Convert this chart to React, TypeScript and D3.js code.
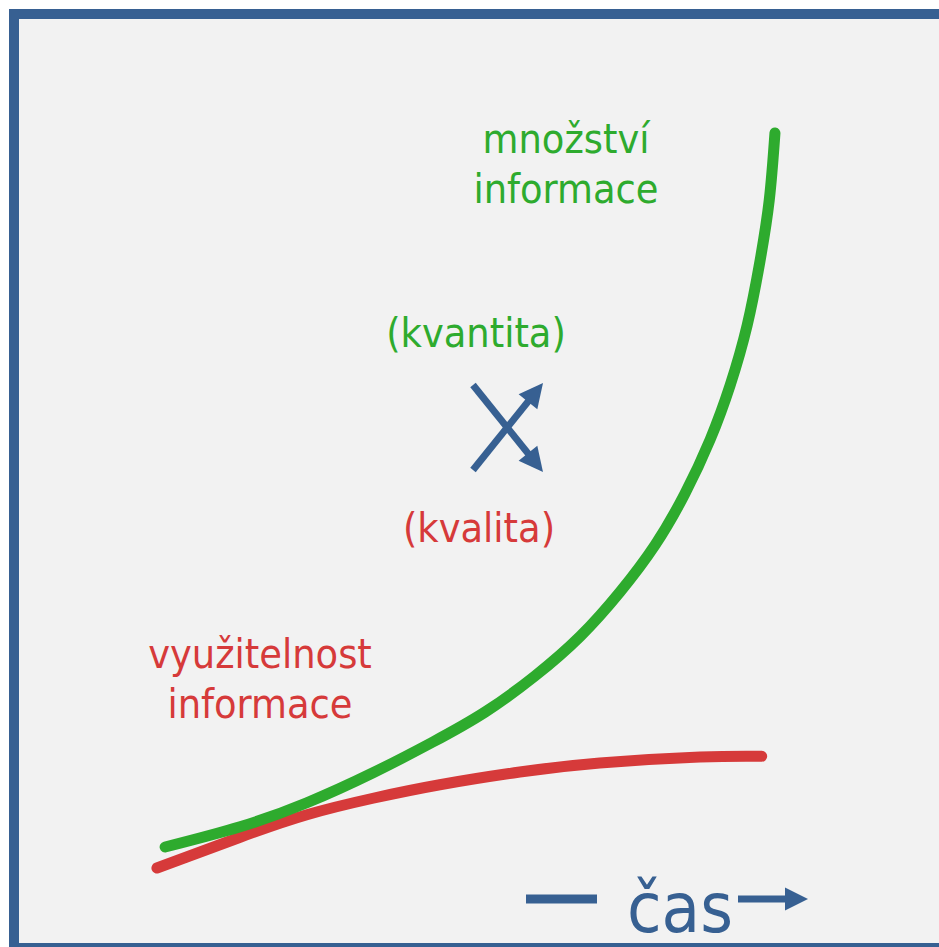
import React, { useEffect } from "react";
import * as d3 from "d3";

// time runs 0..100, value 0..100 (arbitrary units)
const amountTime = [2.4, 14.3, 24.9, 35.4, 44.9, 53.2, 61.1, 68.3, 74.6, 80.2, 84.9, 88.9, 92.1, 94.8, 96.8, 98.3, 99.2];
const amountValue = [4.4, 7.1, 10.3, 14.3, 18.4, 22.4, 27.2, 32.5, 38.4, 44.7, 51.5, 58.7, 66.0, 74.0, 82.4, 90.7, 99.6];

const usefulTime = [1.1, 14.3, 24.9, 35.4, 46.0, 58.7, 71.4, 87.3, 97.1];
const usefulValue = [1.6, 5.7, 8.7, 10.9, 12.7, 14.4, 15.6, 16.4, 16.5];

const amountLabel = ["množství", "informace"];
const quantityLabel = "(kvantita)";
const qualityLabel = "(kvalita)";
const usefulLabel = ["využitelnost", "informace"];
const timeLabel = "čas";

const W = 939;
const H = 947;
const GREEN = "#2eab2e";
const RED = "#d63a3a";
const BLUE = "#376092";
const FONT = "'DejaVu Sans Condensed', 'DejaVu Sans', sans-serif";

function Arrow({ x1, y1, x2, y2, width, head, headW }) {
  const dx = x2 - x1;
  const dy = y2 - y1;
  const len = Math.sqrt(dx * dx + dy * dy);
  const ux = dx / len;
  const uy = dy / len;
  const bx = x2 - ux * head;
  const by = y2 - uy * head;
  const px = -uy * headW / 2;
  const py = ux * headW / 2;
  return (
    <g>
      <line x1={x1} y1={y1} x2={bx + ux * 2} y2={by + uy * 2} stroke={BLUE} strokeWidth={width} />
      <polygon points={`${x2},${y2} ${bx + px},${by + py} ${bx - px},${by - py}`} fill={BLUE} />
    </g>
  );
}

export default function App() {
  useEffect(() => {
    document.body.style.margin = "0";
  }, []);

  const x = d3.scaleLinear().domain([0, 100]).range([150, 780]);
  const y = d3.scaleLinear().domain([0, 100]).range([880, 130]);

  const line = d3
    .line()
    .x((d) => x(d[0]))
    .y((d) => y(d[1]))
    .curve(d3.curveNatural);

  const amount = amountTime.map((t, i) => [t, amountValue[i]]);
  const useful = usefulTime.map((t, i) => [t, usefulValue[i]]);

  return (
    <svg width={W} height={H} style={{ display: "block" }}>
      <rect x={14} y={14} width={950} height={934} fill="#f2f2f2" stroke={BLUE} strokeWidth={10} />

      <path d={line(useful)} fill="none" stroke={RED} strokeWidth={11} strokeLinecap="round" />
      <path d={line(amount)} fill="none" stroke={GREEN} strokeWidth={11} strokeLinecap="round" />

      <g fontFamily={FONT} fontSize={41} textAnchor="middle">
        <text x={566} y={153} fill={GREEN}>{amountLabel[0]}</text>
        <text x={566} y={203} fill={GREEN}>{amountLabel[1]}</text>
        <text x={476} y={347} fill={GREEN}>{quantityLabel}</text>
        <text x={479} y={542} fill={RED}>{qualityLabel}</text>
        <text x={260} y={668} fill={RED}>{usefulLabel[0]}</text>
        <text x={260} y={718} fill={RED}>{usefulLabel[1]}</text>
      </g>

      {/* crossing arrows */}
      <Arrow x1={473} y1={385} x2={543} y2={472} width={7} head={24} headW={24} />
      <Arrow x1={473} y1={470} x2={543} y2={383} width={7} head={24} headW={24} />

      {/* time axis */}
      <line x1={526} y1={899} x2={597} y2={899} stroke={BLUE} strokeWidth={9} />
      <text x={680} y={932} fill={BLUE} fontFamily={FONT} fontSize={70} textAnchor="middle">
        {timeLabel}
      </text>
      <Arrow x1={738} y1={899} x2={808} y2={899} width={7} head={23} headW={23} />
    </svg>
  );
}
